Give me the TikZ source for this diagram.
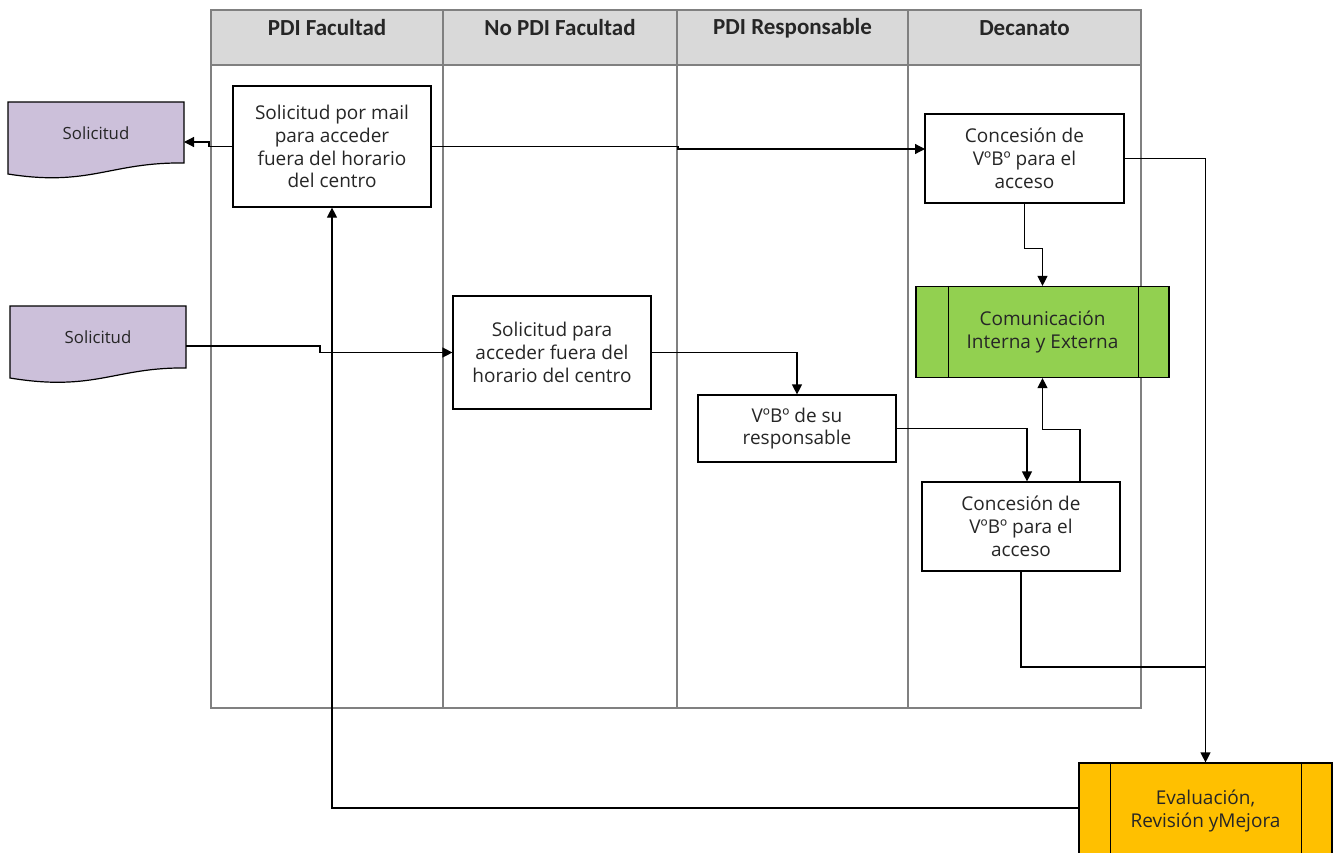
\documentclass[tikz,border=0pt]{standalone}
\usepackage{fontspec}
\setmainfont{Open Sans}
\newfontfamily\hdrfont{Carlito}
\usetikzlibrary{arrows.meta}
\definecolor{lanegray}{HTML}{808080}
\definecolor{hdrfill}{HTML}{D9D9D9}
\definecolor{docfill}{HTML}{CCC0DA}
\definecolor{procgreen}{HTML}{92D050}
\definecolor{procyellow}{HTML}{FFC000}
\begin{document}
\begin{tikzpicture}[x=0.5pt,y=-0.5pt,
  lane/.style={draw=lanegray,line width=1pt},
  boxfont/.style={font=\fontsize{9.5}{11.4}\selectfont,text=black!85,align=center},
  box/.style={draw=black,line width=0.6pt,fill=white,boxfont,inner sep=0pt},
  proc/.style={box,minimum width=126.5pt,minimum height=45.5pt},
  docshape/.style={draw=black,line width=0.6pt,fill=docfill},
  doctext/.style={text=black!85,font=\fontsize{8.4}{10}\selectfont,inner sep=0pt},
  conn/.style={draw=black,line width=0.6pt},
  arr/.style={conn,-{Triangle[length=5pt,width=5pt]}},
  hdr/.style={font=\hdrfont\bfseries\fontsize{11.5}{13}\selectfont,text=black!85}]
\useasboundingbox (0,0) rectangle (1339,852);
% swimlanes
\draw[lane,fill=hdrfill] (211,10) rectangle (1141,65);
\draw[lane] (211,65) rectangle (1141,708);
\foreach \x in {443,677,908} \draw[lane] (\x,10) -- (\x,708);
\node[hdr] (h1) at (327,28) {PDI Facultad};
\node[hdr] (h2) at (560,28) {No PDI Facultad};
\node[hdr] (h3) at (792.5,28) {PDI Responsable};
\node[hdr] (h4) at (1024.5,28) {Decanato};
% documents
\path[docshape] (8,102) -- (184,102) -- (184,163) .. controls (110,162) and (90,187) .. (8,174) -- cycle;
\node[doctext] (doc1) at (96,133) {Solicitud};
\coordinate (doc1in) at (184,142);
\path[docshape] (10,306) -- (186,306) -- (186,368) .. controls (115,367) and (95,392) .. (10,378) -- cycle;
\node[doctext] (doc2) at (98,337) {Solicitud};
\coordinate (doc2out) at (186,346);
% boxes
\node[box,minimum width=99pt,minimum height=60.5pt] (A) at (332,146.5)
  {Solicitud por mail\\para acceder\\fuera del horario\\del centro};
\node[box,minimum width=99pt,minimum height=56.5pt] (B) at (552,352.5)
  {Solicitud para\\acceder fuera del\\horario del centro};
\node[box,minimum width=99pt,minimum height=33.5pt] (C) at (797,428.5)
  {VºBº de su\\responsable};
\node[box,minimum width=99.5pt,minimum height=44.5pt] (D) at (1024.5,158.5)
  {Concesión de\\VºBº para el\\acceso};
\node[box,minimum width=99pt,minimum height=44.5pt] (E) at (1021,526.5)
  {Concesión de\\VºBº para el\\acceso};
\node[proc,fill=procgreen] (G) at (1042.5,332)
  {Comunicación\\Interna y Externa};
\draw[line width=0.6pt] ([xshift=16.5pt]G.north west) -- ([xshift=16.5pt]G.south west);
\draw[line width=0.6pt] ([xshift=-15.5pt]G.north east) -- ([xshift=-15.5pt]G.south east);
\node[proc,fill=procyellow,minimum height=60pt,
  label={[boxfont,inner sep=0pt,yshift=6pt]center:Evaluación,\\Revisión yMejora}] (Y) at (1205.5,823) {};
\draw[line width=0.6pt] ([xshift=16pt]Y.north west) -- ([xshift=16pt]Y.south west);
\draw[line width=0.6pt] ([xshift=-15.5pt]Y.north east) -- ([xshift=-15.5pt]Y.south east);
% connectors
\coordinate (Din) at (925,149);
\coordinate (J) at (1205.5,667);
\coordinate (Yout) at (1079,808);
\draw[arr] (A.west) -- (209,146.5) |- (doc1in);
\draw[arr] (A.east) -- (678,146.5) |- (Din);
\draw[arr] (doc2out) -- (320,346) |- (B.west);
\draw[arr] (B.east) -| (C.north);
\draw[arr] (C.east) -| ([xshift=3pt]E.north);
\draw[arr] ([xshift=29.5pt]E.north) -- ++(0,-52) -| (G.south);
\draw[arr] (D.south) -- ++(0,45) -| (G.north);
\draw[arr] (D.east) -| (Y.north);
\draw[conn] (E.south) |- (J);
\draw[arr] (Yout) -| (A.south);
\end{tikzpicture}
\end{document}
